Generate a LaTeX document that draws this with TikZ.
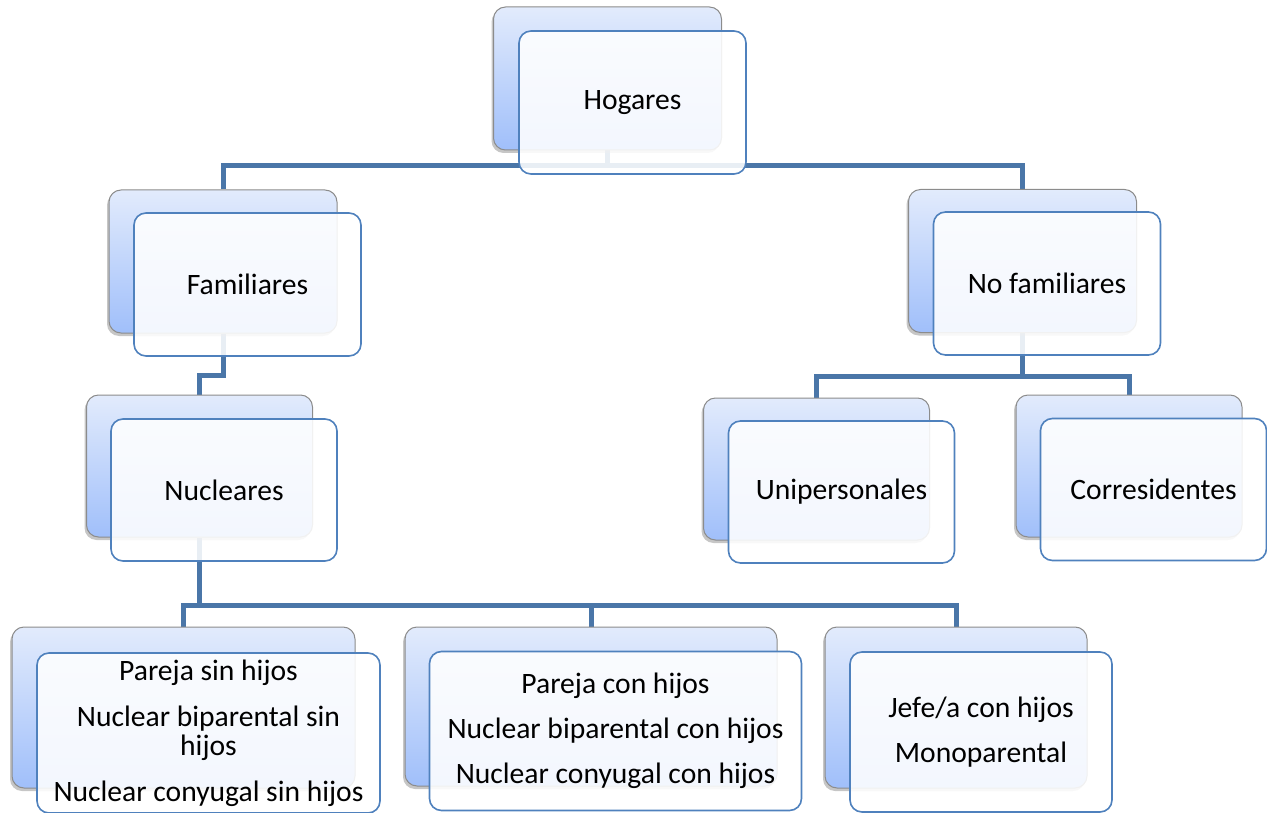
\documentclass[tikz,border=0pt]{standalone}
\usepackage{fontspec}
\setmainfont{Carlito}
\usetikzlibrary{shadows}
\definecolor{conncol}{HTML}{4A76A8}
\definecolor{frontcol}{HTML}{4F81BD}
\definecolor{backtop}{HTML}{E2EBFC}
\definecolor{backbot}{HTML}{A0BFFA}
\pgfdeclarelayer{bg}
\pgfsetlayers{bg,main}
\tikzset{
  backbox/.style={draw=gray!90, line width=1pt, rounded corners=12pt,
    top color=backtop, bottom color=backbot, inner sep=0pt,
    drop shadow={shadow xshift=-2pt, shadow yshift=-3pt, opacity=0.45}},
  frontbox/.style={draw=frontcol, line width=1.6pt, rounded corners=12pt,
    fill=white, fill opacity=0.88, text opacity=1, inner sep=0pt,
    align=center, font=\fontsize{29.6}{29}\selectfont},
  conn/.style={draw=conncol, line width=5pt, line join=miter}
}
\begin{document}
\begin{tikzpicture}[x=1pt,y=-1pt]
\useasboundingbox (0,0) rectangle (1267,813);
% Hogares
\node[backbox, minimum width=228pt, minimum height=143pt] (hogB) at (607.5,78.5) {};
\node[frontbox, minimum width=227pt, minimum height=143pt] (hog) at (632.5,102.5) {Hogares};
% Familiares
\node[backbox, minimum width=228pt, minimum height=143pt] (famB) at (223,261.5) {};
\node[frontbox, minimum width=227pt, minimum height=143pt] (fam) at (247.5,284.5) {Familiares};
% No familiares
\node[backbox, minimum width=228pt, minimum height=143pt] (nofB) at (1022.5,261) {};
\node[frontbox, minimum width=227pt, minimum height=143pt] (nof) at (1047,283.5) {No familiares};
% Nucleares
\node[backbox, minimum width=226pt, minimum height=142pt] (nucB) at (199.5,466) {};
\node[frontbox, minimum width=226pt, minimum height=142pt] (nuc) at (224,490) {Nucleares};
% Unipersonales
\node[backbox, minimum width=226pt, minimum height=142pt] (uniB) at (816.5,469) {};
\node[frontbox, minimum width=226pt, minimum height=142pt] (uni) at (841.5,492) {Unipersonales};
% Corresidentes
\node[backbox, minimum width=226pt, minimum height=142pt] (corB) at (1129,466) {};
\node[frontbox, minimum width=226pt, minimum height=142pt] (cor) at (1153.5,489.5) {Corresidentes};
% bottom row
\node[backbox, minimum width=343pt, minimum height=161pt] (b1B) at (183.5,707.5) {};
\node[frontbox, minimum width=343pt, minimum height=160pt] (b1) at (208.5,733) {Pareja sin hijos\\[17pt]Nuclear biparental sin\\hijos\\[17pt]Nuclear conyugal sin hijos};
\node[backbox, minimum width=372pt, minimum height=159pt] (b2B) at (591,706.5) {};
\node[frontbox, minimum width=372pt, minimum height=159pt] (b2) at (615.5,731) {Pareja con hijos\\[16pt]Nuclear biparental con hijos\\[16pt]Nuclear conyugal con hijos};
\node[backbox, minimum width=262pt, minimum height=161pt] (b3B) at (956,707.5) {};
\node[frontbox, minimum width=262pt, minimum height=160pt] (b3) at (981,732) {Jefe/a con hijos\\[16pt]Monoparental};
% connectors
\begin{pgfonlayer}{bg}
\coordinate (hj) at (607.5,166);
\draw[conn] (hogB.south) -- (hj);
\draw[conn] (famB.north) |- (hj) -| (nofB.north);
\draw[conn] (famB.south) -- ++(0,42) -| (nucB.north);
\coordinate (nj) at (1022.5,376);
\draw[conn] (nofB.south) -- (nj);
\draw[conn] (uniB.north) |- (nj) -| (corB.north);
\coordinate (nuj) at (199.5,605);
\draw[conn] (nucB.south) -- (nuj);
\draw[conn] (b1B.north) |- (nuj) -| (b3B.north);
\draw[conn] (b2B.north) -- (b2B.north |- nuj);
\end{pgfonlayer}
\end{tikzpicture}
\end{document}
